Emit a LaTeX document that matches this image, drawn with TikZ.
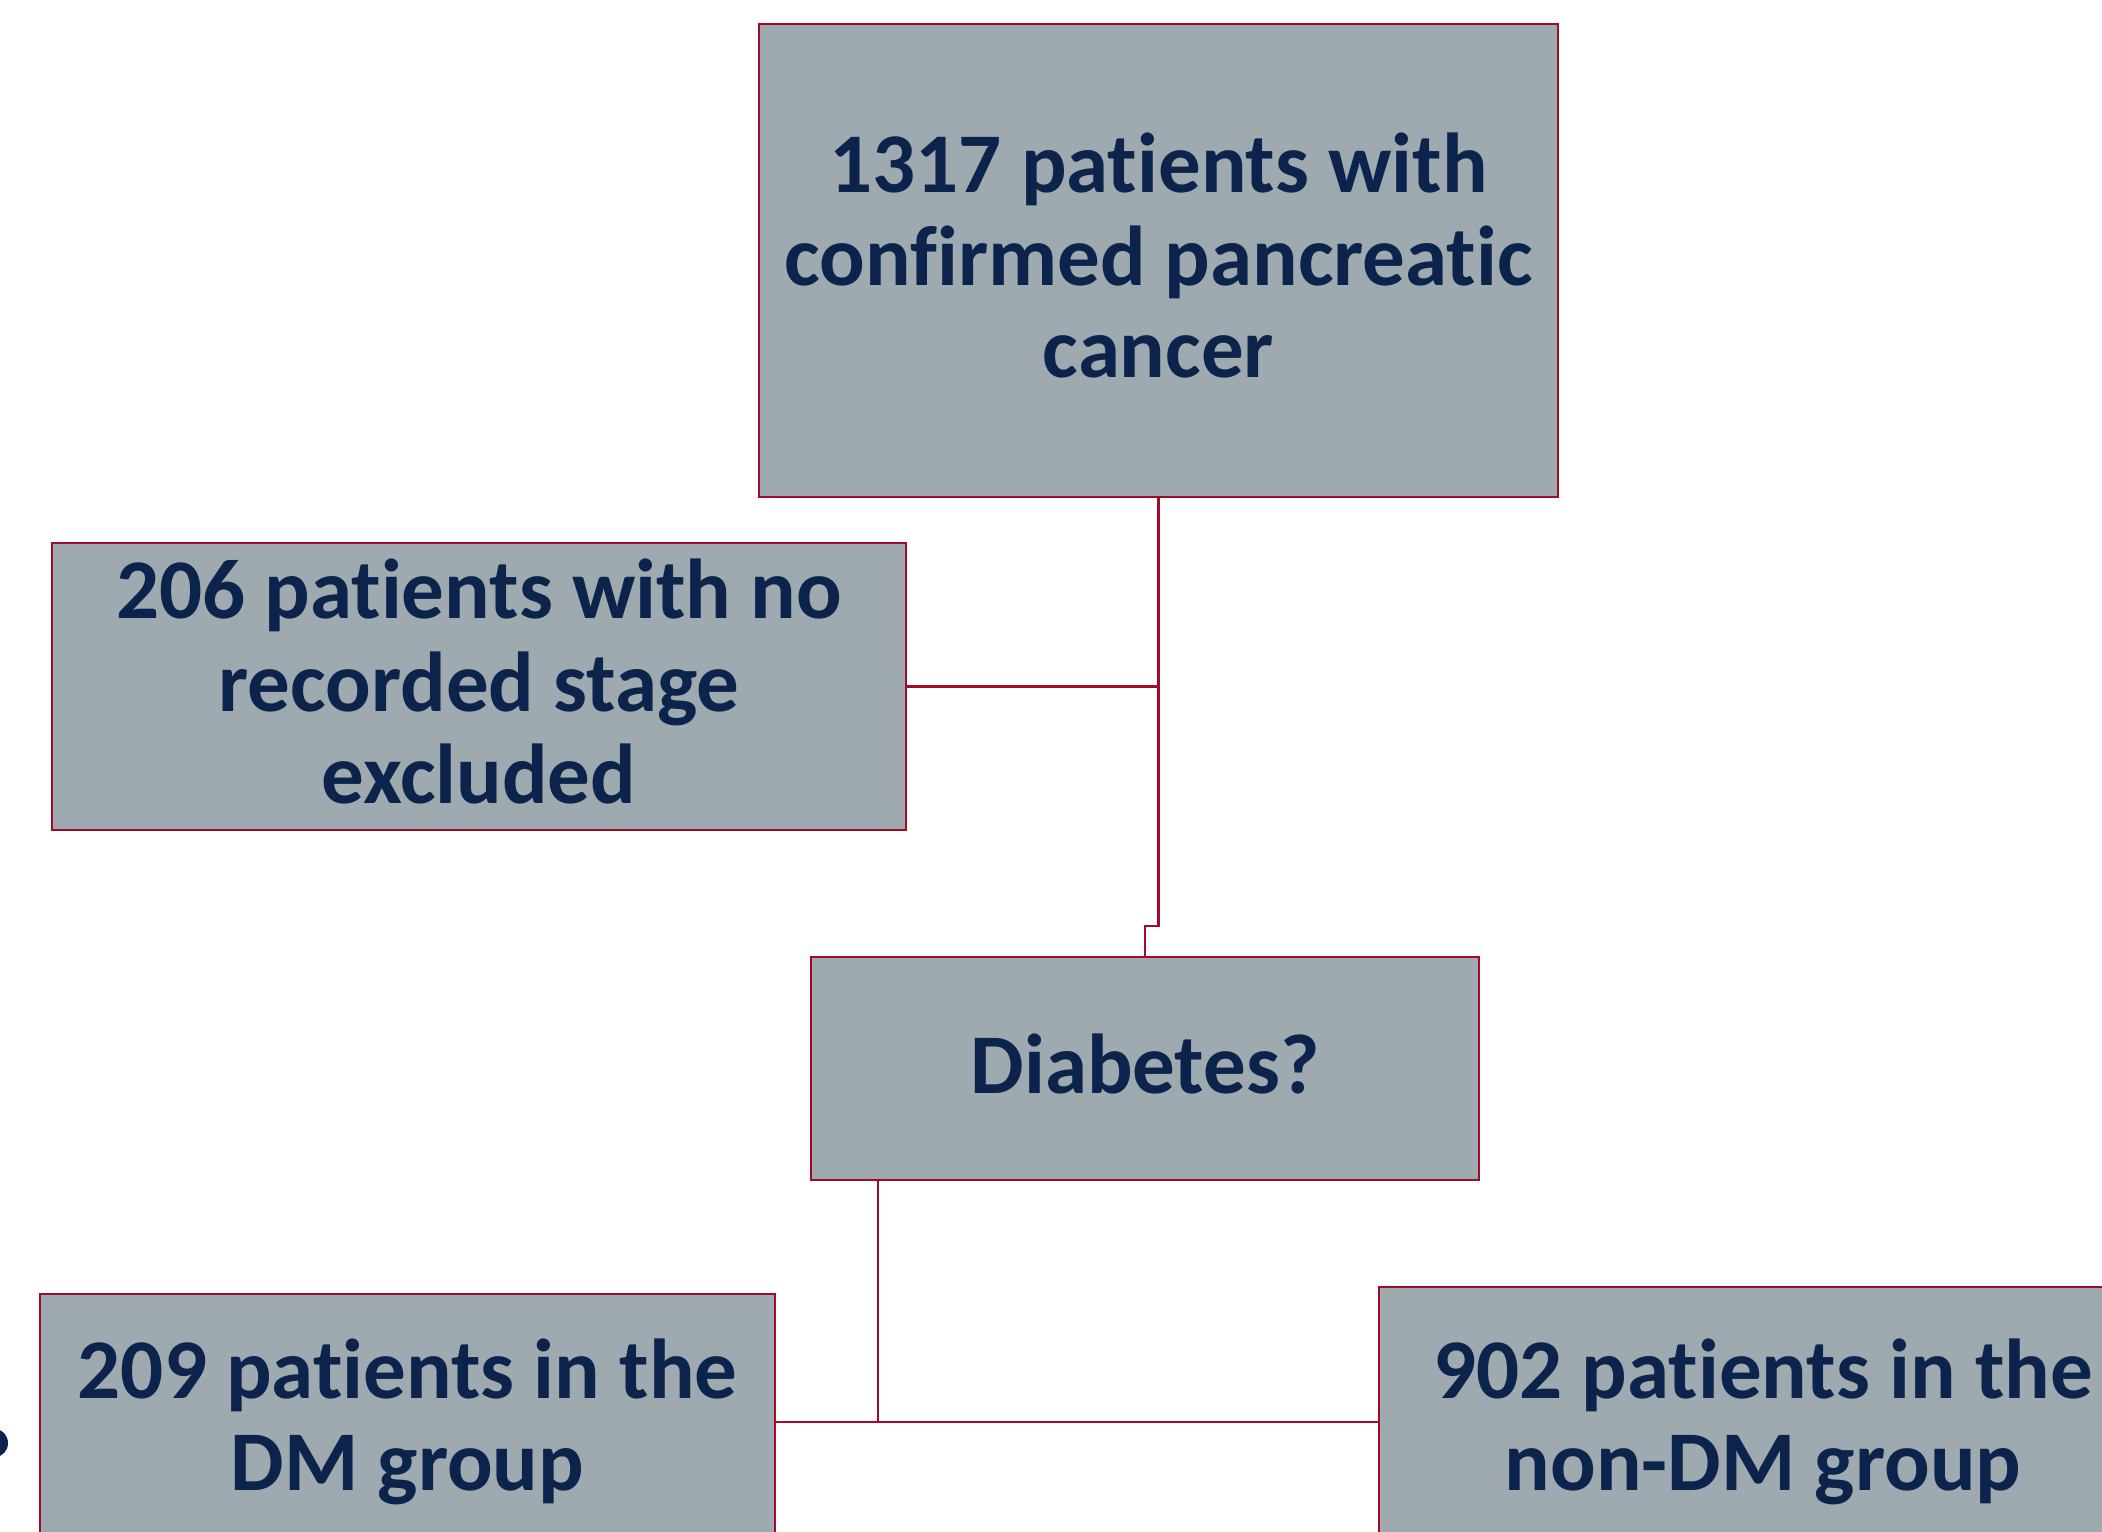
\documentclass[tikz,border=0pt]{standalone}
\usepackage{fontspec}
\setmainfont[Ligatures={NoCommon,NoContextual}]{Carlito}
\definecolor{boxfill}{RGB}{158,170,175}
\definecolor{boxline}{RGB}{163,10,40}
\definecolor{navytext}{RGB}{12,35,75}
\newcommand{\liftup}{\rule[-10bp]{0pt}{10bp}}
\tikzset{
  flowbox/.style={draw=boxline, fill=boxfill, line width=2.8bp, inner sep=0pt,
    align=center, text=navytext,
    font=\fontsize{85bp}{92.5bp}\selectfont\bfseries},
  link/.style={draw=boxline, line width=2.8bp}
}
\begin{document}
\begin{tikzpicture}[x=1bp, y=-1bp]
\useasboundingbox (0,0) rectangle (2102,1532);
\clip (0,0) rectangle (2102,1532);
\fill[white] (0,0) rectangle (2102,1532);

\node[flowbox, minimum width=799bp, minimum height=473bp] (top) at (1158.5,260.5)
  {1317 patients with\\confirmed pancreatic\\cancer\liftup};
\node[flowbox, minimum width=854bp, minimum height=287bp] (excl) at (479,686.5)
  {206 patients with no\\recorded stage\\excluded\liftup};
\node[flowbox, minimum width=668bp, minimum height=223bp] (diab) at (1145,1068.5)
  {Diabetes?\liftup};
\node[flowbox, minimum width=735bp, minimum height=256bp] (dm) at (407.5,1422)
  {209 patients in the\\DM group};
\node[flowbox, minimum width=768bp, minimum height=270bp] (nondm) at (1763,1422)
  {902 patients in the\\non-DM group};

\coordinate (j1) at (1158.5,926);
\coordinate (j2) at (1145,926);
\coordinate (split) at (878,1422);

\draw[link] (top.south) -- (j1) -- (j2) -- (diab.north);
\draw[link] (excl.east) -- (excl.east -| top.south);
\draw[link] (diab.south -| split) -- (split) -- (nondm.west);
\draw[link] (dm.east) -- (split);

\fill[navytext] (-5,1443) ellipse [x radius=13, y radius=14];
\end{tikzpicture}
\end{document}
